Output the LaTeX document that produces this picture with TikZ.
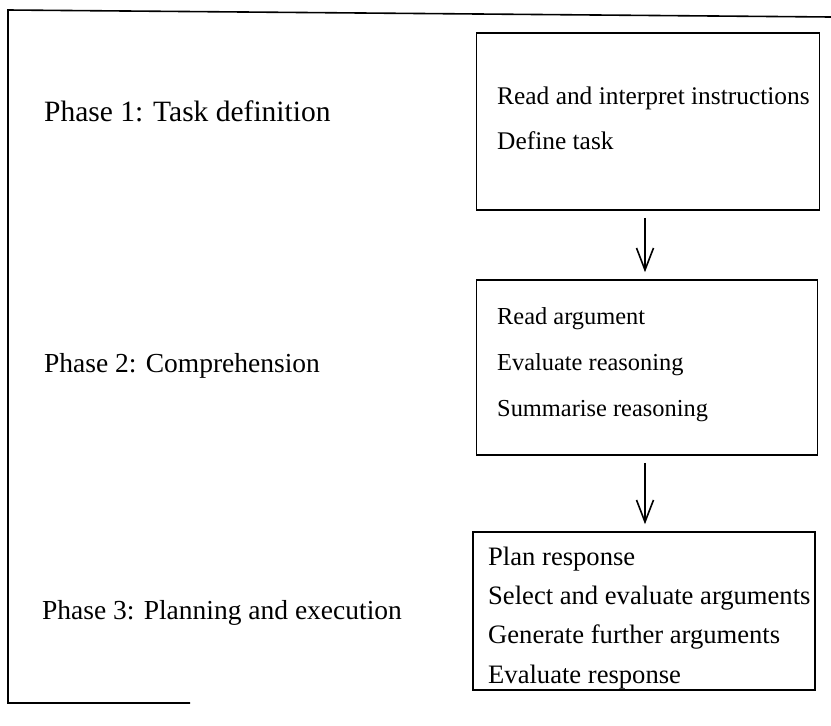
\documentclass[tikz,border=0pt]{standalone}
\usepackage{fontspec}
\setmainfont{Liberation Serif}
\usetikzlibrary{arrows.meta}
\begin{document}
\begin{tikzpicture}[x=1pt,y=-1pt,
  phase/.style={anchor=west,inner sep=0pt,font=\fontsize{27.5}{32}\selectfont},
  item/.style={anchor=west,inner sep=0pt,font=\fontsize{#1}{30}\selectfont},
  item/.default=25,
  stagebox/.style={draw,line width=1.6pt,inner sep=0pt},
  flow/.style={line width=1.6pt,-{Straight Barb[length=22pt,width=17pt,line width=1.6pt]},shorten <=7pt,shorten >=7pt}]
\useasboundingbox (0,0) rectangle (831,726);

% outer frame
\draw[line width=1.6pt] (831,17) -- (8,10) -- (8,703) -- (190,703);

% phase labels
\node[phase,font=\fontsize{29.5}{34}\selectfont] (p1) at (44,111) {Phase 1: Task definition};
\node[phase] (p2) at (44,366) {Phase 2: Comprehension};
\node[phase] (p3) at (42,613) {Phase 3: Planning and execution};

% activity boxes
\node[stagebox,minimum width=343pt,minimum height=177pt] (b1) at (648,121.5) {};
\node[stagebox,minimum width=341pt,minimum height=175pt] (b2) at (647,367.5) {};
\node[stagebox,minimum width=342pt,minimum height=158pt] (b3) at (644,611) {};

% box contents
\node[item=25.4] (t11) at (497,98) {Read and interpret instructions};
\node[item=25.4] (t12) at (497,141) {Define task};

\node[item=24.4] (t21) at (497,319) {Read argument};
\node[item=24.4] (t22) at (497,365) {Evaluate reasoning};
\node[item=24.4] (t23) at (497,411) {Summarise reasoning};

\node[item=26.6] (t31) at (488,559) {Plan response};
\node[item=26.6] (t32) at (488,598) {Select and evaluate arguments};
\node[item=26.6] (t33) at (488,637) {Generate further arguments};
\node[item=26.6] (t34) at (488,677) {Evaluate response};

% flow between phases
\draw[flow] (b1.south -| 645,0) -- (b2.north -| 645,0);
\draw[flow] (b2.south -| 645,0) -- (b3.north -| 645,0);
\end{tikzpicture}
\end{document}
